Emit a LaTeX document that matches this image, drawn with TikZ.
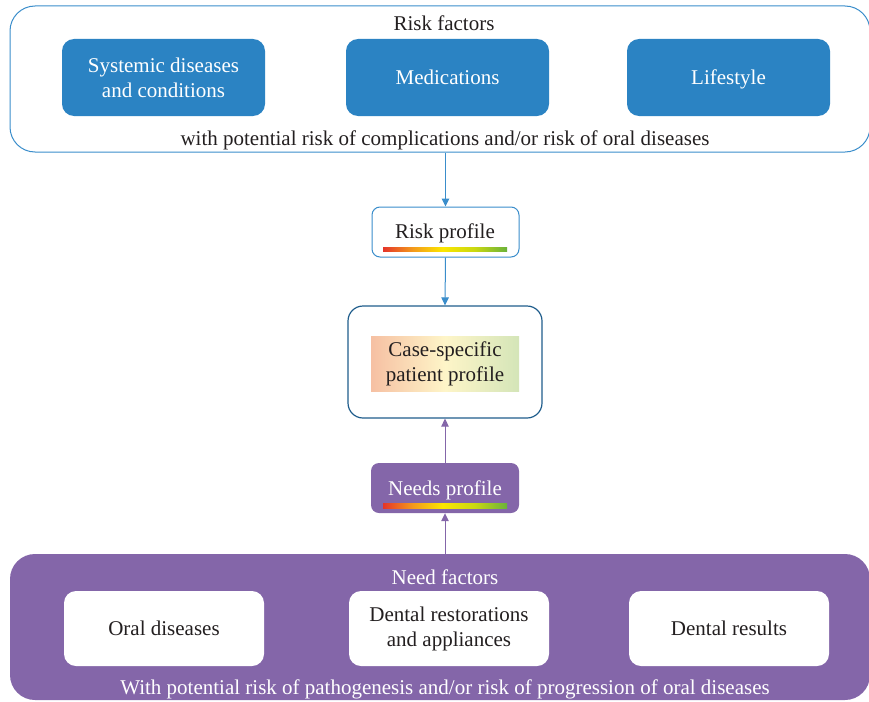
\documentclass[tikz,border=0pt]{standalone}
\usepackage{fontspec}
\setmainfont{Liberation Serif}
\usetikzlibrary{arrows.meta}
\definecolor{rblue}{HTML}{2B83C3}
\definecolor{rborder}{HTML}{3A8DCB}
\definecolor{cborder}{HTML}{1F5D8C}
\definecolor{npurple}{HTML}{8466A9}
\definecolor{txt}{HTML}{231F20}
\definecolor{barred}{HTML}{E5352A}
\definecolor{barorange}{HTML}{F39A1C}
\definecolor{baryellow}{HTML}{FCE600}
\definecolor{baryg}{HTML}{C9D811}
\definecolor{bargreen}{HTML}{6AB23A}
\definecolor{csalmon}{HTML}{F6C0A3}
\definecolor{cyellow}{HTML}{FEF5C8}
\definecolor{cgreen}{HTML}{D4E5B8}
\pgfdeclarehorizontalshading{riskbar}{100bp}{color(0bp)=(barred); color(25bp)=(barred); color(37bp)=(barorange); color(49bp)=(baryellow); color(62bp)=(baryg); color(75bp)=(bargreen); color(100bp)=(bargreen)}
\pgfdeclarehorizontalshading{casegrad}{100bp}{color(0bp)=(csalmon); color(25bp)=(csalmon); color(50bp)=(cyellow); color(75bp)=(cgreen); color(100bp)=(cgreen)}
\begin{document}
\begin{tikzpicture}[x=1pt,y=-1pt,
  font=\fontsize{21}{25}\selectfont,
  bluebox/.style={rectangle, rounded corners=12pt, fill=rblue, text=white, minimum width=203pt, minimum height=77pt, align=center, inner sep=0pt},
  whitebox/.style={rectangle, rounded corners=12pt, fill=white, text=txt, minimum width=200pt, minimum height=75pt, align=center, inner sep=0pt},
  label/.style={inner sep=0pt, align=center},
  flowarrow/.style={-{Triangle[length=8pt,width=7.5pt]}, line width=1pt}]
\useasboundingbox (0,0) rectangle (869,701);
% top group
\node[draw=rborder, line width=1pt, rounded corners=25pt, minimum width=860pt, minimum height=146pt, inner sep=0pt] (topbox) at (440,79) {};
\node[label, text=txt] (risktitle) at (444,23) {Risk factors};
\node[bluebox] (sys) at (163.5,77.5) {Systemic diseases\\and conditions};
\node[bluebox] (med) at (447.5,77.5) {Medications};
\node[bluebox, text depth=0pt] (life) at (728.5,77.5) {Lifestyle};
\node[label, text=txt] (riskbottom) at (445,140) {with potential risk of complications and/or risk of oral diseases};
% risk profile
\node[draw=rborder, fill=white, line width=1pt, rounded corners=8pt, minimum width=147pt, minimum height=50pt, inner sep=0pt] (risk) at (445.5,232) {};
\node[label, text=txt] (risktext) at (445,233) {Risk profile};
\shade[shading=riskbar] (383,247) rectangle (507,251.5);
% case-specific
\node[draw=cborder, fill=white, line width=1.2pt, rounded corners=15pt, minimum width=194pt, minimum height=112pt, inner sep=0pt] (case) at (445,362) {};
\shade[shading=casegrad] (371,336) rectangle (519,391);
\node[label, text=txt] (casetext) at (445,364) {Case-specific\\patient profile};
% needs profile
\node[fill=npurple, rounded corners=8pt, minimum width=148pt, minimum height=50pt, inner sep=0pt] (needs) at (445,488) {};
\node[label, text=white] (needstext) at (445,490) {Needs profile};
\shade[shading=riskbar] (383,503) rectangle (507,508);
% bottom group
\node[fill=npurple, rounded corners=25pt, minimum width=860pt, minimum height=146pt, inner sep=0pt] (bottombox) at (440,627) {};
\node[label, text=white] (needtitle) at (445,577) {Need factors};
\node[whitebox] (oral) at (164,628.5) {Oral diseases};
\node[whitebox] (dental) at (449,628.5) {Dental restorations\\and appliances};
\node[whitebox] (results) at (729,628.5) {Dental results};
\node[label, text=white] (needbottom) at (445,689) {With potential risk of pathogenesis and/or risk of progression of oral diseases};
% connectors
\draw[flowarrow, rborder] (risk.north |- topbox.south) -- (risk.north);
\draw[flowarrow, rborder] (risk.south) -- (case.north);
\draw[flowarrow, npurple] (needs.north) -- (case.south);
\draw[flowarrow, npurple] (needs.south |- bottombox.north) -- (needs.south);
\end{tikzpicture}
\end{document}
